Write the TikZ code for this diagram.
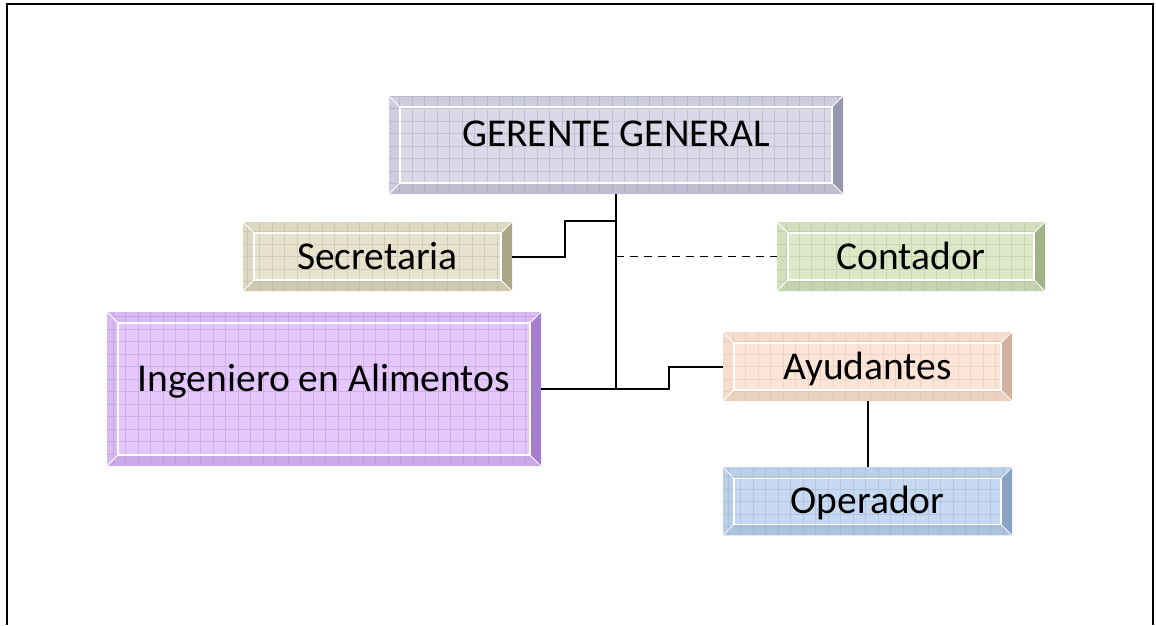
\documentclass[tikz,border=0pt]{standalone}
\usepackage{fontspec}
\setmainfont{Carlito}
\usetikzlibrary{positioning}

\definecolor{gerC}{HTML}{D9D9E7}
\definecolor{gerD}{HTML}{9696AE}
\definecolor{secC}{HTML}{E7E3CF}
\definecolor{secD}{HTML}{ACA586}
\definecolor{conC}{HTML}{DDE8C9}
\definecolor{conD}{HTML}{A2B38A}
\definecolor{ingC}{HTML}{E4C8FB}
\definecolor{ingD}{HTML}{A67ECF}
\definecolor{ayuC}{HTML}{FCE5D6}
\definecolor{ayuD}{HTML}{D2B29E}
\definecolor{opeC}{HTML}{C6D9F1}
\definecolor{opeD}{HTML}{8AA3C5}

\tikzset{
  bevelbox/.style 2 args={inner sep=0pt, fill=#1, text height=25pt, text depth=0pt,
    font=\fontsize{39.5}{47}\selectfont,
    path picture={
      \path (path picture bounding box.north west) coordinate (pnw)
            (path picture bounding box.south east) coordinate (pse)
            (path picture bounding box.north east) coordinate (pne)
            (path picture bounding box.south west) coordinate (psw);
      \fill[#1!82!#2] (pnw) -- (pne) -- ([xshift=-11pt,yshift=-11pt]pne) -- ([xshift=11pt,yshift=-11pt]pnw) -- cycle;
      \fill[#1!82!#2] (pnw) -- (psw) -- ([xshift=11pt,yshift=11pt]psw) -- ([xshift=11pt,yshift=-11pt]pnw) -- cycle;
      \fill[#2] (pne) -- (pse) -- ([xshift=-11pt,yshift=11pt]pse) -- ([xshift=-11pt,yshift=-11pt]pne) -- cycle;
      \fill[#1!60!#2] (psw) -- (pse) -- ([xshift=-11pt,yshift=11pt]pse) -- ([xshift=11pt,yshift=11pt]psw) -- cycle;
      \draw[#2, opacity=0.35, line width=0.5pt, step=12.5pt] (psw) grid (pne);
      \draw[white, line width=1.2pt] ([xshift=11pt,yshift=-11pt]pnw) rectangle ([xshift=-11pt,yshift=11pt]pse);
      \draw[white, line width=0.8pt] (pnw) -- ([xshift=11pt,yshift=-11pt]pnw)
                                     (pne) -- ([xshift=-11pt,yshift=-11pt]pne)
                                     (psw) -- ([xshift=11pt,yshift=11pt]psw)
                                     (pse) -- ([xshift=-11pt,yshift=11pt]pse);
    }},
  conn/.style={line width=2pt, black},
}

\begin{document}
\begin{tikzpicture}[x=1pt,y=-1pt]
  \useasboundingbox (0,0) rectangle (1156,625);
  % marco
  \draw[line width=2.5pt] (7,625) -- (7,4) -- (1153,4) -- (1153,625);

  % cajas
  \node[bevelbox={gerC}{gerD}, minimum width=454pt, minimum height=98pt, text depth=23pt] (ger) at (616,145) {GERENTE GENERAL};
  \node[bevelbox={secC}{secD}, minimum width=269pt, minimum height=69pt] (sec) at (377.5,256.5) {Secretaria};
  \node[bevelbox={conC}{conD}, minimum width=268pt, minimum height=69pt] (con) at (911,256.5) {Contador};
  \node[bevelbox={ingC}{ingD}, minimum width=434pt, minimum height=154pt, text depth=20pt] (ing) at (324,389) {Ingeniero en Alimentos};
  \node[bevelbox={ayuC}{ayuD}, minimum width=289pt, minimum height=69pt] (ayu) at (867.5,366.5) {Ayudantes};
  \node[bevelbox={opeC}{opeD}, minimum width=289pt, minimum height=68pt, below=66pt of ayu] (ope) {Operador};

  % conectores
  \coordinate (s1) at (565,256.5);
  \coordinate (s2) at (616,221);
  \coordinate (e1) at (669,389);
  \draw[conn] (ger) -- (ger.south |- ing.east);
  \draw[conn] (sec.east) -- (s1) |- (s2);
  \draw[conn] (ing.east) -- (e1) |- (ayu.west);
  \draw[conn, line width=1.6pt, dash pattern=on 8pt off 6pt] (ger.south |- con.west) -- (con.west);
  \draw[conn] (ayu) -- (ope);
\end{tikzpicture}
\end{document}
